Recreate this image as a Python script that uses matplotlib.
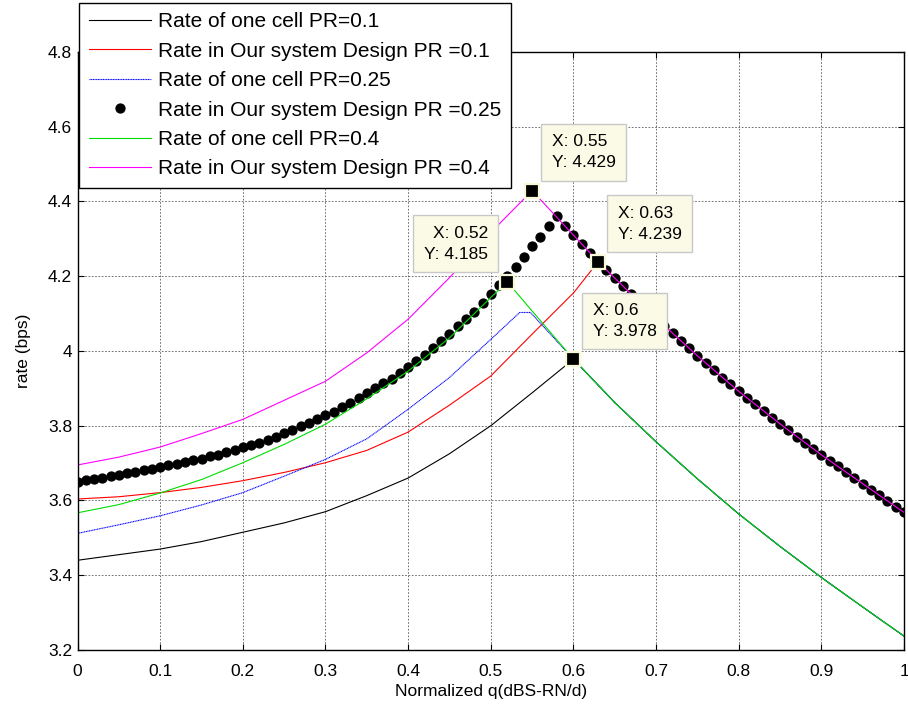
import matplotlib
matplotlib.use("Agg")
import matplotlib.pyplot as plt

plt.rcParams["font.family"] = ["Liberation Sans", "DejaVu Sans"]

# one-cell curves (x, y)
x_pr01_cell = [0.0, 0.05, 0.1, 0.15, 0.2, 0.25, 0.3, 0.35, 0.4, 0.45, 0.5, 0.55, 0.6,
               0.65, 0.7, 0.75, 0.8, 0.85, 0.9, 0.95, 1.0]
y_pr01_cell = [3.440, 3.455, 3.470, 3.490, 3.515, 3.540, 3.570, 3.613, 3.660, 3.725, 3.800, 3.888, 3.978,
               3.862, 3.757, 3.658, 3.564, 3.477, 3.394, 3.315, 3.237]

x_pr025_cell = [0.0, 0.05, 0.1, 0.15, 0.2, 0.25, 0.3, 0.35, 0.4, 0.45, 0.5, 0.535, 0.548, 0.6,
                0.65, 0.7, 0.75, 0.8, 0.85, 0.9, 0.95, 1.0]
y_pr025_cell = [3.512, 3.535, 3.559, 3.588, 3.621, 3.665, 3.710, 3.765, 3.844, 3.929, 4.031, 4.103, 4.103, 3.978,
                3.862, 3.757, 3.658, 3.564, 3.477, 3.394, 3.315, 3.237]

x_pr04_cell = [0.0, 0.05, 0.1, 0.15, 0.2, 0.25, 0.3, 0.35, 0.4, 0.45, 0.5, 0.52, 0.55, 0.6,
               0.65, 0.7, 0.75, 0.8, 0.85, 0.9, 0.95, 1.0]
y_pr04_cell = [3.567, 3.589, 3.620, 3.656, 3.701, 3.750, 3.804, 3.872, 3.946, 4.035, 4.143, 4.185, 4.107, 3.978,
               3.862, 3.757, 3.658, 3.564, 3.477, 3.394, 3.315, 3.237]

# our system design curves
x_pr01_design = [0.0, 0.05, 0.1, 0.15, 0.2, 0.25, 0.3, 0.35, 0.4, 0.45, 0.5, 0.55, 0.6, 0.63,
                 0.65, 0.7, 0.75, 0.8, 0.85, 0.9, 0.95, 1.0]
y_pr01_design = [3.604, 3.610, 3.621, 3.635, 3.653, 3.675, 3.701, 3.734, 3.783, 3.855, 3.933, 4.045, 4.155, 4.239,
                 4.195, 4.088, 3.987, 3.892, 3.805, 3.722, 3.645, 3.568]

x_pr04_design = [0.0, 0.05, 0.1, 0.15, 0.2, 0.25, 0.3, 0.35, 0.4, 0.45, 0.5, 0.55, 0.6, 0.63,
                 0.65, 0.7, 0.75, 0.8, 0.85, 0.9, 0.95, 1.0]
y_pr04_design = [3.695, 3.716, 3.743, 3.779, 3.817, 3.868, 3.919, 3.995, 4.085, 4.196, 4.317, 4.429, 4.310, 4.239,
                 4.195, 4.088, 3.987, 3.892, 3.805, 3.722, 3.645, 3.568]

x_pr025_design = [i / 100 for i in range(101)]
y_pr025_design = [
    3.650, 3.654, 3.658, 3.661, 3.665, 3.669, 3.673, 3.677, 3.681, 3.685,
    3.690, 3.694, 3.698, 3.702, 3.707, 3.712, 3.718, 3.723, 3.729, 3.735,
    3.742, 3.748, 3.755, 3.763, 3.771, 3.780, 3.789, 3.798, 3.807, 3.817,
    3.828, 3.838, 3.850, 3.862, 3.874, 3.887, 3.900, 3.913, 3.926, 3.942,
    3.957, 3.972, 3.989, 4.007, 4.027, 4.046, 4.066, 4.085, 4.105, 4.128,
    4.152, 4.176, 4.200, 4.225, 4.252, 4.280, 4.306, 4.335, 4.360, 4.334,
    4.310, 4.286, 4.262, 4.239, 4.217, 4.195, 4.174, 4.152, 4.130, 4.109,
    4.088, 4.067, 4.047, 4.027, 4.007, 3.987, 3.968, 3.948, 3.929, 3.911,
    3.892, 3.874, 3.857, 3.839, 3.822, 3.805, 3.788, 3.771, 3.755, 3.738,
    3.722, 3.706, 3.691, 3.675, 3.660, 3.645, 3.629, 3.614, 3.598, 3.583,
    3.568,
]

# data tips: (x, y, side)
tip_x = [0.55, 0.52, 0.63, 0.6]
tip_y = [4.429, 4.185, 4.239, 3.978]
tip_side = ["right", "left", "right", "right"]

fig = plt.figure(figsize=(9.08, 7.13), dpi=100)
ax = fig.add_axes([0.0854, 0.0884, 0.9102, 0.8387])

lw = 0.8
ax.plot(x_pr01_cell, y_pr01_cell, color="black", lw=lw, label="Rate of one cell PR=0.1")
ax.plot(x_pr01_design, y_pr01_design, color="red", lw=lw, label="Rate in Our system Design PR =0.1")
ax.plot(x_pr025_cell, y_pr025_cell, color="blue", lw=lw, ls=(0, (1, 0.5)), label="Rate of one cell PR=0.25")
ax.plot(x_pr025_design, y_pr025_design, ls="none", marker="o", ms=6.4, color="black",
        label="Rate in Our system Design PR =0.25")
ax.plot(x_pr04_cell, y_pr04_cell, color="#00dd00", lw=lw, label="Rate of one cell PR=0.4")
ax.plot(x_pr04_design, y_pr04_design, color="magenta", lw=lw, label="Rate in Our system Design PR =0.4")

ax.set_xlim(0, 1)
ax.set_ylim(3.2, 4.8)
ax.set_xticks([i / 10 for i in range(11)])
ax.set_xticklabels(["0", "0.1", "0.2", "0.3", "0.4", "0.5", "0.6", "0.7", "0.8", "0.9", "1"])
ax.set_yticks([3.2, 3.4, 3.6, 3.8, 4.0, 4.2, 4.4, 4.6, 4.8])
ax.set_yticklabels(["3.2", "3.4", "3.6", "3.8", "4", "4.2", "4.4", "4.6", "4.8"])
ax.tick_params(direction="in", length=4, width=0.8, top=True, right=True, labelsize=12.5)
ax.tick_params(axis="x", pad=10)
ax.tick_params(axis="y", pad=4)
ax.grid(True, color="0.35", ls=(0, (2, 2)), lw=0.6)
for s in ax.spines.values():
    s.set_linewidth(1.0)
ax.set_xlabel("Normalized q(dBS-RN/d)", fontsize=12.5, labelpad=4)
ax.set_ylabel("rate (bps)", fontsize=12.5, labelpad=12)

# data tips
for tx, ty, side in zip(tip_x, tip_y, tip_side):
    ax.plot(tx, ty, marker="s", ms=9.5, mfc="black", mec="#f8f8d8", mew=1.6, zorder=6)
    dx = 14 if side == "right" else -14
    ax.annotate(f"X: {tx:g}\nY: {ty:.3f}", xy=(tx, ty), xytext=(dx, 14.5), textcoords="offset points",
                ha="left" if side == "right" else "right", va="bottom", fontsize=12.5,
                linespacing=1.5,
                bbox=dict(boxstyle="square,pad=0.6", fc="#fafae6", ec="#c8c8c8", lw=1.0),
                zorder=7, annotation_clip=False)

leg = ax.legend(loc="upper left", bbox_to_anchor=(0.002, 1.082), borderaxespad=0, fontsize=15,
                frameon=True, fancybox=False, edgecolor="black", framealpha=1, numpoints=1,
                handlelength=3.0, handletextpad=0.35, labelspacing=0.5, borderpad=0.45)
leg.get_frame().set_linewidth(1.0)
leg.set_zorder(10)

fig.savefig("out.png", dpi=100)
